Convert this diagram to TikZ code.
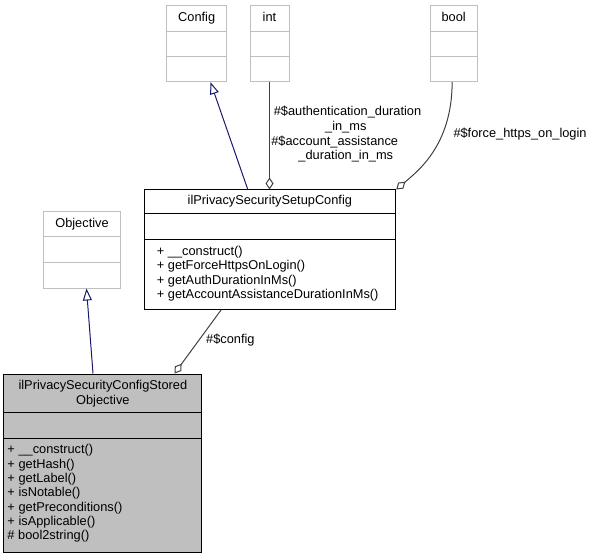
\documentclass[tikz,border=0pt]{standalone}
\usepackage{fontspec}
\setmainfont{Liberation Sans}
\usetikzlibrary{arrows.meta,calc}
\definecolor{boxgray}{HTML}{BFBFBF}
\definecolor{edgegray}{HTML}{404040}
\definecolor{navyblue}{HTML}{191970}
\definecolor{fillgray}{HTML}{BFBFBF}
\begin{document}
\begin{tikzpicture}[x=1bp,y=-1bp,
 every node/.style={font=\fontsize{12.8bp}{14.3bp}\selectfont},
 cls/.style={rectangle, inner sep=0, line width=1bp},
 ext/.style={cls, draw=boxgray},
 mainbox/.style={cls, draw=black},
 txt/.style={inner sep=0, text height=9.5bp, text depth=3bp},
 mline/.style={txt, anchor=west},
 inherit/.style={navyblue, line width=1bp, -{Triangle[open,length=12bp,width=9bp,fill=white]}},
 aggr/.style={edgegray, line width=1bp, {Diamond[open,length=12bp,width=8bp,fill=white]}-},
 lbl/.style={txt, align=center},
]
\useasboundingbox (0,0) rectangle (593,559);
% classes
\node[ext, minimum width=60bp, minimum height=76bp] (config) at (196.7,43.7) {};
\draw[boxgray, line width=1bp] ($(config.north west)+(0,26)$) -- ($(config.north east)+(0,26)$)
  ($(config.north west)+(0,51)$) -- ($(config.north east)+(0,51)$);
\node[txt] (configT) at ($(config.north)+(0,13)$) {Config};

\node[ext, minimum width=39bp, minimum height=76bp] (int) at (269.5,43.7) {};
\draw[boxgray, line width=1bp] ($(int.north west)+(0,26)$) -- ($(int.north east)+(0,26)$)
  ($(int.north west)+(0,51)$) -- ($(int.north east)+(0,51)$);
\node[txt] (intT) at ($(int.north)+(0,13)$) {int};

\node[ext, minimum width=47.3bp, minimum height=76bp] (bool) at (453.7,43.7) {};
\draw[boxgray, line width=1bp] ($(bool.north west)+(0,26)$) -- ($(bool.north east)+(0,26)$)
  ($(bool.north west)+(0,51)$) -- ($(bool.north east)+(0,51)$);
\node[txt] (boolT) at ($(bool.north)+(0,13)$) {bool};

\node[mainbox, fill=white, minimum width=251.7bp, minimum height=119.3bp] (setup) at (269.85,249.65) {};
\draw[black, line width=1bp] ($(setup.north west)+(0,24.3)$) -- ($(setup.north east)+(0,24.3)$)
  ($(setup.north west)+(0,50)$) -- ($(setup.north east)+(0,50)$);
\node[txt] (setupT) at ($(setup.north)+(0,12.2)$) {ilPrivacySecuritySetupConfig};
\node[mline] (s1) at (156.7,252.3) {+ \_\_construct()};
\node[mline] (s2) at (156.7,266.6) {+ getForceHttpsOnLogin()};
\node[mline] (s3) at (156.7,280.9) {+ getAuthDurationInMs()};
\node[mline] (s4) at (156.7,295.2) {+ getAccountAssistanceDurationInMs()};

\node[ext, minimum width=77.4bp, minimum height=76.3bp] (objective) at (82,249.85) {};
\draw[boxgray, line width=1bp] ($(objective.north west)+(0,25.6)$) -- ($(objective.north east)+(0,25.6)$)
  ($(objective.north west)+(0,51)$) -- ($(objective.north east)+(0,51)$);
\node[txt] (objectiveT) at ($(objective.north)+(0,12.8)$) {Objective};

\node[mainbox, fill=fillgray, minimum width=197.7bp, minimum height=178.3bp] (stored) at (102.85,463.15) {};
\draw[black, line width=1bp] ($(stored.north west)+(0,39.3)$) -- ($(stored.north east)+(0,39.3)$)
  ($(stored.north west)+(0,65)$) -- ($(stored.north east)+(0,65)$);
\node[txt] (storedT1) at (102.85,386.7) {ilPrivacySecurityConfigStored};
\node[txt] (storedT2) at (102.85,400.9) {Objective};
\node[mline] (m1) at (7.3,450.7) {+ \_\_construct()};
\node[mline] (m2) at (7.3,465.0) {+ getHash()};
\node[mline] (m3) at (7.3,479.3) {+ getLabel()};
\node[mline] (m4) at (7.3,493.6) {+ isNotable()};
\node[mline] (m5) at (7.3,507.9) {+ getPreconditions()};
\node[mline] (m6) at (7.3,522.2) {+ isApplicable()};
\node[mline] (m7) at (7.3,536.5) {\# bool2string()};

% connectors
\draw[inherit] ($(setup.north west)+(104.3,0)$) -- ($(config.south west)+(44.3,0)$);
\draw[inherit] ($(stored.north west)+(89.5,0)$) -- ($(objective.south)+(4.5,0)$);
\draw[aggr] (int.south |- setup.north) -- (int.south);
\draw[aggr] (setup.north east) .. controls (418,171) and (452,145) .. ($(bool.south west)+(22.6,0)$);
\draw[aggr] ($(stored.north west)+(171,0)$) -- ($(setup.south west)+(77.7,0)$);

% labels
\node[txt] (l1) at (347.5,112.7) {\#\$authentication\_duration};
\node[txt] (l2) at (345.8,127.3) {\_in\_ms};
\node[txt] (l3) at (334.7,142.0) {\#\$account\_assistance};
\node[txt] (l4) at (345.8,156.4) {\_duration\_in\_ms};
\node[txt, anchor=west] (l5) at (453.3,134) {\#\$force\_https\_on\_login};
\node[txt, anchor=west] (l6) at (206,340) {\#\$config};
\end{tikzpicture}
\end{document}
